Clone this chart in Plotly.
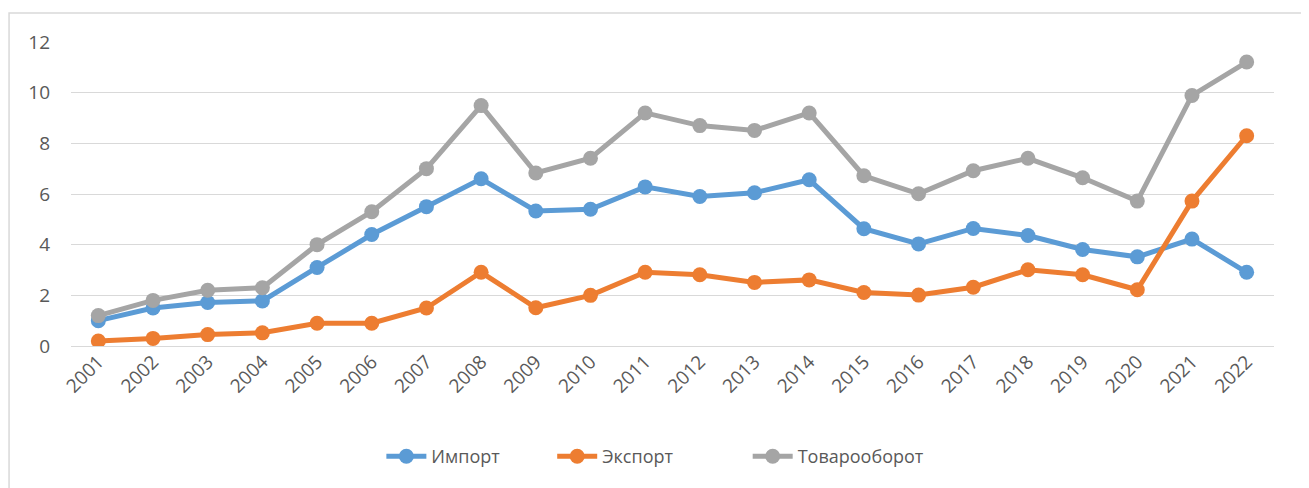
import plotly.graph_objects as go

years = [str(y) for y in range(2001, 2023)]
imports = [1.0, 1.5, 1.72, 1.78, 3.1, 4.4, 5.5, 6.6, 5.33, 5.4, 6.28, 5.9, 6.05, 6.56,
           4.63, 4.03, 4.64, 4.36, 3.81, 3.52, 4.22, 2.91]
exports = [0.2, 0.3, 0.45, 0.52, 0.9, 0.9, 1.5, 2.91, 1.51, 2.0, 2.91, 2.81, 2.51, 2.61,
           2.11, 2.01, 2.32, 3.01, 2.81, 2.22, 5.72, 8.3]
turnover = [1.2, 1.8, 2.2, 2.3, 4.0, 5.3, 7.0, 9.49, 6.83, 7.41, 9.2, 8.7, 8.51, 9.2,
            6.72, 6.01, 6.92, 7.41, 6.64, 5.72, 9.89, 11.21]
names = ["Импорт", "Экспорт", "Товарооборот"]
colors = ["#5B9BD5", "#ED7D31", "#A5A5A5"]
y_ticks = [0, 2, 4, 6, 8, 10, 12]

legend_ids = ["legend", "legend2", "legend3"]
legend_x = [0.258, 0.400, 0.5625]

fig = go.Figure()
for name, vals, col, lid in zip(names, [imports, exports, turnover], colors, legend_ids):
    fig.add_trace(go.Scatter(
        x=years, y=vals, name=name, mode="lines+markers",
        line=dict(color=col, width=5),
        marker=dict(color=col, size=15),
        legend=lid,
    ))

font_family = "Open Sans, Liberation Sans, sans-serif"
legend_common = dict(orientation="h", xanchor="left", y=-0.3635, yanchor="middle",
                     font=dict(size=18, color="#595959"), itemwidth=40,
                     bgcolor="rgba(0,0,0,0)")
fig.update_layout(
    width=1301, height=480,
    margin=dict(l=63, r=35, t=34, b=142, autoexpand=False),
    paper_bgcolor="white", plot_bgcolor="white",
    font=dict(family=font_family, size=19, color="#595959"),
    showlegend=True,
    legend=dict(x=legend_x[0], **legend_common),
    legend2=dict(x=legend_x[1], **legend_common),
    legend3=dict(x=legend_x[2], **legend_common),
    xaxis=dict(type="category", tickangle=-45, showgrid=False, showline=False,
               ticks="", range=[-0.5, 21.5], automargin=False,
               tickfont=dict(size=19, color="#595959")),
    yaxis=dict(range=[0, 12], tickvals=y_ticks, showgrid=True, gridcolor="#D9D9D9",
               gridwidth=1, zeroline=True, zerolinecolor="#D9D9D9", zerolinewidth=1,
               showline=False, ticks="", ticklabelstandoff=20, automargin=False,
               tickfont=dict(size=19, color="#595959")),
    shapes=[dict(type="rect", xref="paper", yref="paper",
                 x0=-0.0515, x1=1.025, y0=-0.47, y1=1.095,
                 line=dict(color="#D9D9D9", width=1.5), layer="below")],
)

fig.write_html("out.html")
